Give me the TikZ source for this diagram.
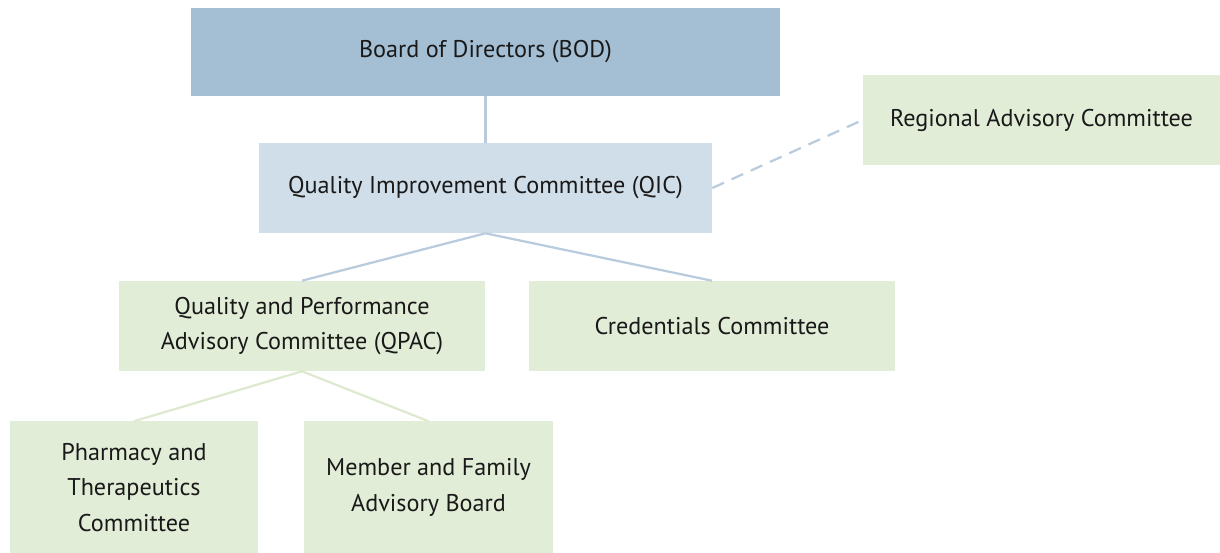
\documentclass[tikz,border=0pt]{standalone}
\usepackage{fontspec}
\setmainfont{PT Sans}
\usetikzlibrary{positioning}
\definecolor{bodblue}{HTML}{A4BFD4}
\definecolor{qicblue}{HTML}{D0DEE9}
\definecolor{cgreen}{HTML}{E2EDD7}
\definecolor{linkblue}{HTML}{B8CCDE}
\definecolor{linkgreen}{HTML}{DDEAD0}
\tikzset{
  box/.style={
    shape = rectangle,
    inner sep = 0pt,
    align = center,
    font = \fontsize{17.2}{25.5}\selectfont,
    text = black!90
  },
  bodbox/.style={box, fill=bodblue, minimum width=14.725cm, minimum height=2.2cm},
  qicbox/.style={box, fill=qicblue, minimum width=11.325cm, minimum height=2.25cm},
  combox/.style={box, fill=cgreen, minimum width=9.15cm, minimum height=2.25cm},
  subbox/.style={box, fill=cgreen, minimum width=6.2cm, minimum height=3.3cm},
  upper/.style={draw=linkblue, line width=1.6pt},
  lower/.style={draw=linkgreen, line width=1.6pt},
}
\begin{document}
\begin{tikzpicture}[x=0.025cm,y=-0.025cm]
  \useasboundingbox (0,0) rectangle (1220,552);
  % boxes
  \node[bodbox] (bod) at (485.5,52) {Board of Directors (BOD)};
  \node[qicbox] (qic) at (485.5,188) {Quality Improvement Committee (QIC)};
  \node[combox,minimum width=8.925cm] (rac) at (1041.5,120) {Regional Advisory Committee};
  \node[combox] (qpac) at (302,326) {Quality and Performance\\Advisory Committee (QPAC)};
  \node[combox] (cred) at (712,326) {Credentials Committee};
  \node[subbox] (pt) at (134,487.5) {Pharmacy and\\Therapeutics\\Committee};
  \node[subbox] (mfab) at (428.5,487.5) {Member and Family\\Advisory Board};
  % links
  \draw[upper] (bod.south) -- (qic.north);
  \draw[upper,dash pattern=on 9pt off 6pt] (qic.east) -- (rac.west);
  \draw[upper] (qic.south) -- (qpac.north);
  \draw[upper] (qic.south) -- (cred.north);
  \draw[lower] (qpac.south) -- (pt.north);
  \draw[lower] (qpac.south) -- (mfab.north);
\end{tikzpicture}
\end{document}
